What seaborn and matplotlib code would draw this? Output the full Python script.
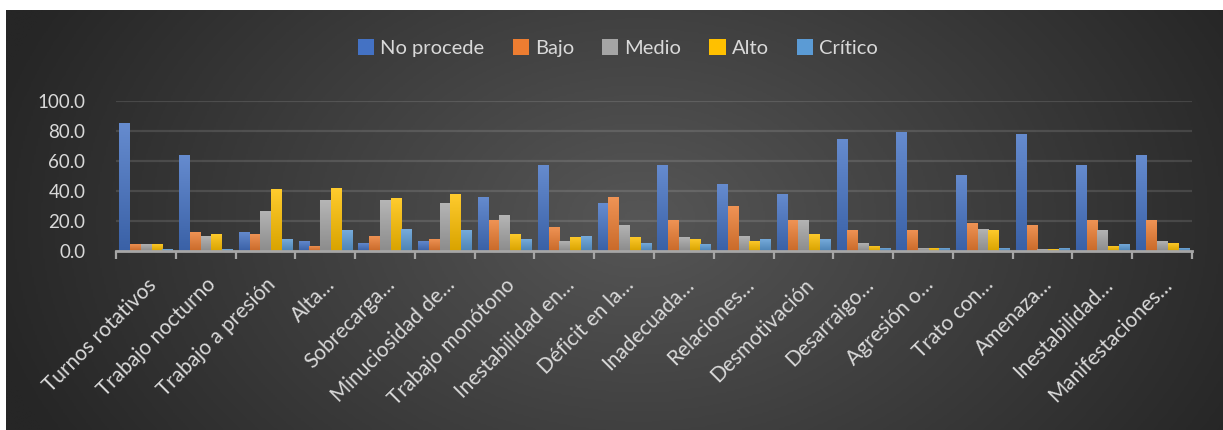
import numpy as np
import pandas as pd
import matplotlib.pyplot as plt
import matplotlib.colors as mcolors
import matplotlib.transforms as mtransforms
from matplotlib.patches import Patch
import seaborn as sns

categories = ["Turnos rotativos", "Trabajo nocturno", "Trabajo a presión", "Alta…",
              "Sobrecarga…", "Minuciosidad de…", "Trabajo monótono", "Inestabilidad en…",
              "Déficit en la…", "Inadecuada…", "Relaciones…", "Desmotivación",
              "Desarraigo…", "Agresión o…", "Trato con…", "Amenaza…",
              "Inestabilidad…", "Manifestaciones…"]
no_procede = [84.9, 63.6, 12.9, 6.9, 5.6, 6.9, 36.2, 56.9, 31.6, 56.9, 44.2, 38.2, 74.2, 78.9, 50.2, 77.6, 56.9, 63.6]
bajo = [4.9, 12.9, 11.6, 3.6, 10.2, 8.2, 20.9, 16.2, 36.2, 20.9, 30.2, 20.9, 14.2, 14.2, 18.9, 17.6, 20.9, 20.9]
medio = [4.9, 10.2, 26.9, 33.6, 33.6, 32.2, 23.6, 6.9, 17.6, 9.6, 10.2, 20.9, 5.6, 2.2, 14.9, 1.0, 14.2, 6.9]
alto = [4.9, 11.6, 40.9, 41.6, 34.9, 38.2, 11.6, 9.6, 9.6, 8.2, 6.9, 11.6, 3.6, 2.2, 14.2, 1.0, 3.6, 5.6]
critico = [1.0, 1.0, 8.2, 14.2, 14.9, 14.2, 8.2, 10.2, 5.6, 4.9, 8.2, 8.2, 2.2, 2.2, 2.2, 2.2, 4.9, 2.2]
levels = ["No procede", "Bajo", "Medio", "Alto", "Crítico"]
colors = ["#4472C4", "#ED7D31", "#A5A5A5", "#FFC000", "#5B9BD5"]

df = pd.DataFrame({
    "Factor": categories * 5,
    "Nivel": np.repeat(levels, len(categories)),
    "Valor": no_procede + bajo + medio + alto + critico,
})

plt.rcParams["font.family"] = ["Lato", "DejaVu Sans"]
txt = "#d9d9d9"

fig = plt.figure(figsize=(12.23, 4.30), dpi=100, facecolor="white")

# dark radial background panel
bg = fig.add_axes([6 / 1223, 0, 1217 / 1223, 420 / 430])
yy, xx = np.mgrid[0:1:200j, 0:1:600j]
r = np.sqrt(((xx - 0.52) / 0.55) ** 2 + ((yy - 0.5) / 1.1) ** 2)
bg_cmap = mcolors.LinearSegmentedColormap.from_list("bg", ["#565656", "#262626"])
bg.imshow(r, cmap=bg_cmap, vmin=0, vmax=1, aspect="auto", interpolation="bilinear")
bg.axis("off")

ax = fig.add_axes([116 / 1223, 179 / 430, 1076 / 1223, 150.5 / 430])
ax.patch.set_alpha(0)
sns.barplot(data=df, x="Factor", y="Valor", hue="Nivel", palette=colors,
            width=0.9, gap=0.06, saturation=1, legend=False, ax=ax)

# vertical gradient on every bar
for p in list(ax.patches):
    x0, y0, w, h = p.get_x(), p.get_y(), p.get_width(), p.get_height()
    if h <= 0:
        continue
    c = np.array(mcolors.to_rgb(p.get_facecolor()))
    top = c + (1 - c) * 0.18
    bot = c * 0.85
    t = np.linspace(0, 1, 64)[:, None]
    grad = bot + (top - bot) * t
    im = ax.imshow(grad[:, None, :], extent=[x0, x0 + w, y0, y0 + h], origin="lower",
                   aspect="auto", zorder=p.get_zorder() + 0.1, interpolation="bilinear")
    im.set_clip_path(p)

ax.set_xlim(-0.5, len(categories) - 0.5)
ax.set_ylim(0, 100)
ax.set_yticks(np.arange(0, 101, 20))
ax.set_yticklabels([f"{v:.1f}" for v in np.arange(0, 101, 20)], fontsize=13.5, color=txt)
ax.yaxis.grid(True, color="white", alpha=0.12, lw=1.6)
ax.set_axisbelow(True)
ax.tick_params(axis="y", length=0, pad=22)

ax.set_xticks(range(len(categories)))
ax.set_xticklabels(categories, rotation=45, ha="right", rotation_mode="anchor",
                   fontsize=15, color=txt)
shift = mtransforms.ScaledTranslation(-0.06, 0, fig.dpi_scale_trans)
for lbl in ax.get_xticklabels():
    lbl.set_transform(lbl.get_transform() + shift)
ax.set_xticks(np.arange(-0.5, len(categories)), minor=True)
ax.tick_params(axis="x", which="major", length=0, pad=17)
ax.tick_params(axis="x", which="minor", length=6, width=1.6, color="#a6a6a6")
ax.set_xlabel("")
ax.set_ylabel("")
for s in ["top", "right", "left"]:
    ax.spines[s].set_visible(False)
ax.spines["bottom"].set_color("#a6a6a6")
ax.spines["bottom"].set_linewidth(2)

handles = [Patch(facecolor=c) for c in colors]
fig.legend(handles, levels, loc="center", bbox_to_anchor=(618 / 1223, 1 - 48 / 430),
           ncol=5, frameon=False, fontsize=14.5, labelcolor=txt,
           handlelength=0.8, handleheight=0.8, columnspacing=1.4, handletextpad=0.3)

fig.savefig("out.png", dpi=100)
